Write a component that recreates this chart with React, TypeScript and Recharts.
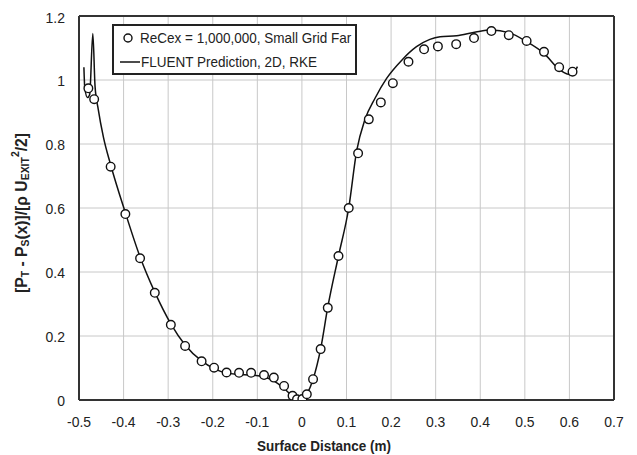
import React from 'react';
import {
  ComposedChart,
  Line,
  Scatter,
  XAxis,
  YAxis,
  CartesianGrid,
  ReferenceLine,
  Legend,
} from 'recharts';

// Experimental: ReCex = 1,000,000, Small Grid Far
const expDist = [
  -0.479, -0.466, -0.429, -0.396, -0.363, -0.33, -0.294, -0.262, -0.225, -0.197,
  -0.169, -0.141, -0.114, -0.085, -0.063, -0.04, -0.021, -0.011, 0.001, 0.011,
  0.025, 0.042, 0.058, 0.082, 0.105, 0.126, 0.15, 0.177, 0.204, 0.239,
  0.274, 0.305, 0.346, 0.386, 0.425, 0.464, 0.504, 0.543, 0.577, 0.607,
];
const expValue = [
  0.974, 0.94, 0.729, 0.581, 0.443, 0.335, 0.235, 0.169, 0.121, 0.101,
  0.086, 0.085, 0.085, 0.078, 0.07, 0.044, 0.013, 0.002, 0.003, 0.018,
  0.065, 0.159, 0.288, 0.45, 0.6, 0.771, 0.877, 0.93, 0.99, 1.057,
  1.096, 1.105, 1.112, 1.131, 1.153, 1.14, 1.122, 1.088, 1.04, 1.026,
];

// FLUENT Prediction, 2D, RKE
const cfdDist = [
  -0.489, -0.487, -0.481, -0.476, -0.469, -0.464, -0.457, -0.445, -0.429, -0.396,
  -0.363, -0.33, -0.294, -0.262, -0.225, -0.197, -0.169, -0.141, -0.114, -0.085,
  -0.063, -0.04, -0.021, -0.008, 0.004, 0.012, 0.025, 0.042, 0.058, 0.082,
  0.105, 0.123, 0.141, 0.164, 0.19, 0.224, 0.257, 0.287, 0.31, 0.347,
  0.39, 0.425, 0.464, 0.504, 0.543, 0.579, 0.605, 0.618,
];
const cfdValue = [
  1.04, 0.975, 0.945, 0.955, 1.145, 0.98, 0.91, 0.82, 0.735, 0.585,
  0.447, 0.337, 0.238, 0.172, 0.122, 0.098, 0.084, 0.08, 0.078, 0.072,
  0.06, 0.036, 0.012, 0.002, 0.002, 0.02, 0.065, 0.16, 0.29, 0.45,
  0.6, 0.78, 0.875, 0.943, 1.005, 1.062, 1.104, 1.127, 1.135, 1.138,
  1.15, 1.156, 1.148, 1.12, 1.083, 1.031, 1.016, 1.042,
];

const xTicks = [-0.5, -0.4, -0.3, -0.2, -0.1, 0, 0.1, 0.2, 0.3, 0.4, 0.5, 0.6, 0.7];
const yTicks = [0, 0.2, 0.4, 0.6, 0.8, 1, 1.2];

const expLabel = 'ReCex = 1,000,000, Small Grid Far';
const cfdLabel = 'FLUENT Prediction, 2D, RKE';
const xTitle = 'Surface Distance (m)';

const expData = expDist.map((x, i) => ({ x, y: expValue[i] }));
const cfdData = cfdDist.map((x, i) => ({ x, y: cfdValue[i] }));

const FONT = '"Liberation Sans", Arial, Helvetica, sans-serif';
const SQ = 0.9;
const fmt = (v: number) => String(Number(v.toFixed(1)));

const XTick = (props: any) => {
  const { x, y, payload } = props;
  return (
    <g transform={`translate(${x},${y})`}>
      <text transform={`scale(${SQ},1)`} textAnchor="middle" dy="0.71em" fontSize={15.5} fill="#222" fontFamily={FONT}>
        {fmt(payload.value)}
      </text>
    </g>
  );
};

const YTick = (props: any) => {
  const { x, y, payload } = props;
  return (
    <g transform={`translate(${x},${y})`}>
      <text transform={`scale(${SQ},1)`} textAnchor="end" dy="0.36em" fontSize={15.5} fill="#222" fontFamily={FONT}>
        {fmt(payload.value)}
      </text>
    </g>
  );
};

const XTitle = (props: any) => {
  const vb = props.viewBox || { x: 0, y: 0, width: 0, height: 0 };
  const cx = vb.x + vb.width / 2 - 22.5;
  const cy = vb.y + 46;
  return (
    <g transform={`translate(${cx},${cy}) scale(${SQ},1)`}>
      <text textAnchor="middle" dominantBaseline="central" fontSize={15} fontWeight="bold" fill="#222" fontFamily={FONT}>
        {xTitle}
      </text>
    </g>
  );
};

const YTitle = (props: any) => {
  const vb = props.viewBox || { x: 0, y: 0, width: 0, height: 0 };
  const cx = vb.x + 13;
  const cy = vb.y + vb.height / 2 + 5;
  return (
    <g transform={`translate(${cx},${cy}) rotate(-90) scale(0.95,1)`}>
      <text textAnchor="middle" dominantBaseline="central" fontSize={16.5} fontWeight="bold" fill="#222" fontFamily={FONT}>
        <tspan>[P</tspan>
        <tspan fontSize={11} dy={4}>T</tspan>
        <tspan dy={-4}> - P</tspan>
        <tspan fontSize={11} dy={4}>S</tspan>
        <tspan dy={-4}>(x)]/[ρ U</tspan>
        <tspan fontSize={11} dy={4}>EXIT</tspan>
        <tspan fontSize={11} dy={-10}>2</tspan>
        <tspan dy={6}>/2]</tspan>
      </text>
    </g>
  );
};

const LegendBox = () => (
  <div
    style={{
      position: 'relative',
      width: 245,
      height: 51,
      boxSizing: 'border-box',
      border: '2px solid #222',
      background: '#fff',
      fontFamily: FONT,
      fontSize: 15,
      color: '#222',
    }}
  >
    <svg width={30} height={51} style={{ position: 'absolute', left: -2, top: -2 }}>
      <circle cx={16} cy={14} r={4} fill="#fff" stroke="#111" strokeWidth={1.4} />
      <line x1={8} x2={28} y1={38} y2={38} stroke="#111" strokeWidth={1.5} />
    </svg>
    <div style={{ position: 'absolute', left: 26, top: 3, lineHeight: '18px', whiteSpace: 'nowrap', transform: `scaleX(${SQ})`, transformOrigin: 'left center' }}>
      {expLabel}
    </div>
    <div style={{ position: 'absolute', left: 27, top: 27, lineHeight: '18px', whiteSpace: 'nowrap', transform: `scaleX(${SQ})`, transformOrigin: 'left center' }}>
      {cfdLabel}
    </div>
  </div>
);

const Dot = (props: any) => (
  <circle cx={props.cx} cy={props.cy} r={4.3} fill="#fff" stroke="#111" strokeWidth={1.4} />
);

export default function App() {
  return (
    <div style={{ position: 'absolute', left: 8, top: 8, background: '#fff' }}>
      <ComposedChart width={625} height={446} margin={{ top: 8, right: 19, bottom: 0, left: 0 }}>
        <CartesianGrid stroke="#c8c8c8" strokeWidth={1} />
        <XAxis
          type="number"
          dataKey="x"
          domain={[-0.5, 0.7]}
          ticks={xTicks}
          allowDataOverflow
          height={54}
          tickLine={false}
          tickSize={6}
          tickMargin={10}
          axisLine={{ stroke: '#333', strokeWidth: 2 }}
          tick={<XTick />}
          label={<XTitle />}
        />
        <YAxis
          type="number"
          dataKey="y"
          domain={[0, 1.2]}
          ticks={yTicks}
          allowDataOverflow
          width={71}
          tickLine={false}
          tickSize={6}
          tickMargin={8}
          axisLine={{ stroke: '#333', strokeWidth: 2 }}
          tick={<YTick />}
          label={<YTitle />}
        />
        <ReferenceLine y={1.2} stroke="#333" strokeWidth={2} />
        <ReferenceLine x={0.7} stroke="#333" strokeWidth={2} />
        <Line
          data={cfdData}
          dataKey="y"
          type="monotone"
          stroke="#111"
          strokeWidth={1.5}
          dot={false}
          activeDot={false}
          isAnimationActive={false}
          legendType="line"
        />
        <Scatter data={expData} dataKey="y" shape={<Dot />} isAnimationActive={false} />
        <Legend
          layout="horizontal"
          verticalAlign="middle"
          align="center"
          wrapperStyle={{ left: 104, top: 16, width: 245, height: 51 }}
          content={<LegendBox />}
        />
      </ComposedChart>
    </div>
  );
}
